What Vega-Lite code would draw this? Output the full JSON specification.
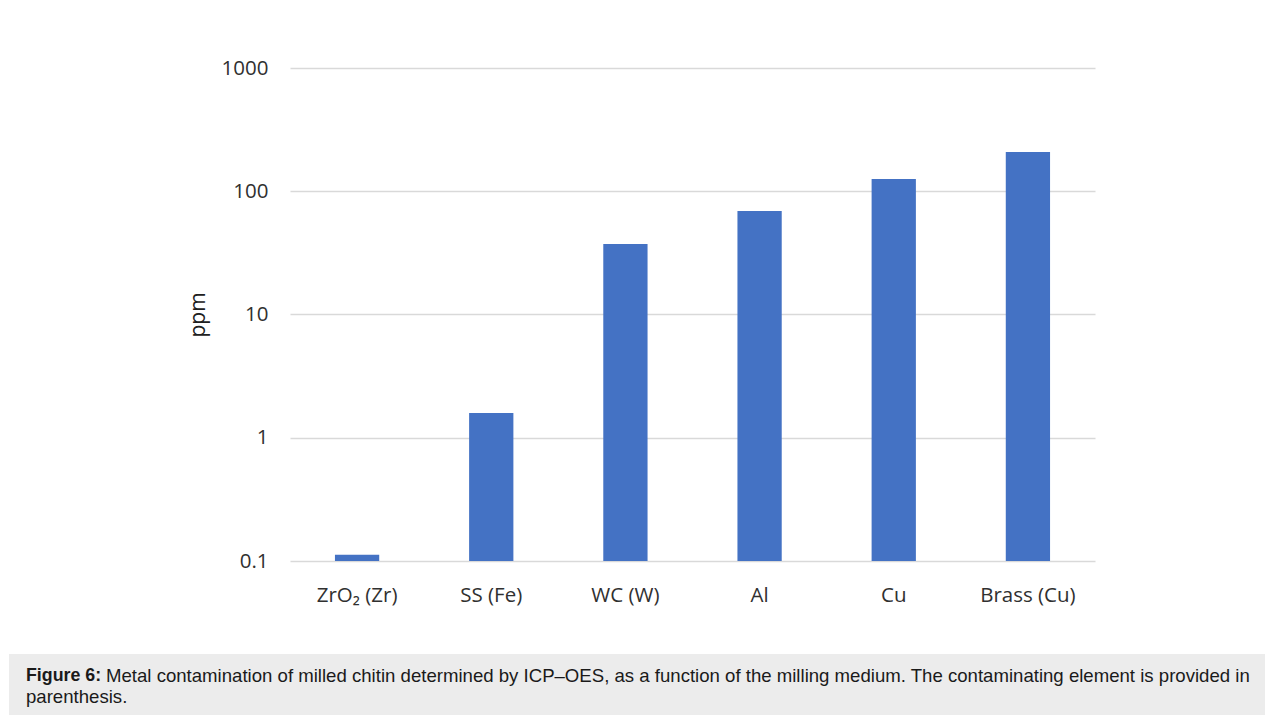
{
  "$schema": "https://vega.github.io/schema/vega-lite/v6.json",
  "background": "white",
  "padding": {"left": 9, "top": 58, "right": 0, "bottom": 0},
  "spacing": 48,
  "config": {"view": {"stroke": null}, "font": "Open Sans"},
  "vconcat": [
    {
      "bounds": "flush",
      "spacing": 0,
      "hconcat": [
        {
          "width": 281,
          "height": 493,
          "data": {"values": []},
          "mark": {"type": "text"},
          "encoding": {}
        },
        {
          "width": 805,
          "height": 493,
          "data": {"values": [
            {"medium": "ZrO₂  (Zr)", "ppm": 0.1125},
            {"medium": "SS (Fe)", "ppm": 1.59},
            {"medium": "WC (W)", "ppm": 37.3},
            {"medium": "Al", "ppm": 69.2},
            {"medium": "Cu", "ppm": 125.7},
            {"medium": "Brass (Cu)", "ppm": 208}
          ]},
          "mark": {"type": "bar", "color": "#4472C4"},
          "encoding": {
            "x": {
              "field": "medium", "type": "nominal", "sort": null,
              "scale": {"paddingInner": 0.67, "paddingOuter": 0.335},
              "axis": {"title": null, "labelAngle": 0, "labelFontSize": 20.5, "labelColor": "#303030", "labelPadding": 24, "ticks": false, "domain": false, "grid": false}
            },
            "y": {
              "field": "ppm", "type": "quantitative",
              "scale": {"type": "log", "domain": [0.1, 1000], "nice": false},
              "axis": {
                "title": "ppm", "titleFontSize": 21, "titleFontWeight": "normal", "titleColor": "#202020",
                "titleX": -82,
                "values": [0.1, 1, 10, 100, 1000], "format": "~g",
                "labelFontSize": 20.5, "labelColor": "#303030", "labelPadding": 22,
                "ticks": false, "domain": false,
                "gridColor": "#d9d9d9", "gridWidth": 1.5
              }
            },
            "y2": {"datum": 0.1}
          }
        }
      ]
    },
    {
      "width": 1256,
      "height": 61,
      "view": {"fill": "#ececec", "stroke": null},
      "data": {"values": [
        {"line": 1, "part": "bold", "text": "Figure 6:"},
        {"line": 1, "part": "rest", "text": "Metal contamination of milled chitin determined by ICP–OES, as a function of the milling medium. The contaminating element is provided in"},
        {"line": 2, "part": "second", "text": "parenthesis."}
      ]},
      "encoding": {
        "y": {"field": "line", "type": "ordinal", "scale": {"type": "point", "range": [22, 43], "padding": 0}, "axis": null},
        "text": {"field": "text"}
      },
      "layer": [
        {"transform": [{"filter": "datum.part === 'bold'"}],
         "mark": {"type": "text", "font": "Liberation Sans", "fontSize": 17.8, "fontWeight": "bold", "align": "left", "baseline": "middle", "color": "#1a1a1a"},
         "encoding": {"x": {"value": 17}}},
        {"transform": [{"filter": "datum.part === 'rest'"}],
         "mark": {"type": "text", "font": "Liberation Sans", "fontSize": 18.6, "align": "left", "baseline": "middle", "color": "#1a1a1a"},
         "encoding": {"x": {"value": 97}}},
        {"transform": [{"filter": "datum.part === 'second'"}],
         "mark": {"type": "text", "font": "Liberation Sans", "fontSize": 18.6, "align": "left", "baseline": "middle", "color": "#1a1a1a"},
         "encoding": {"x": {"value": 17}}}
      ]
    }
  ]
}
